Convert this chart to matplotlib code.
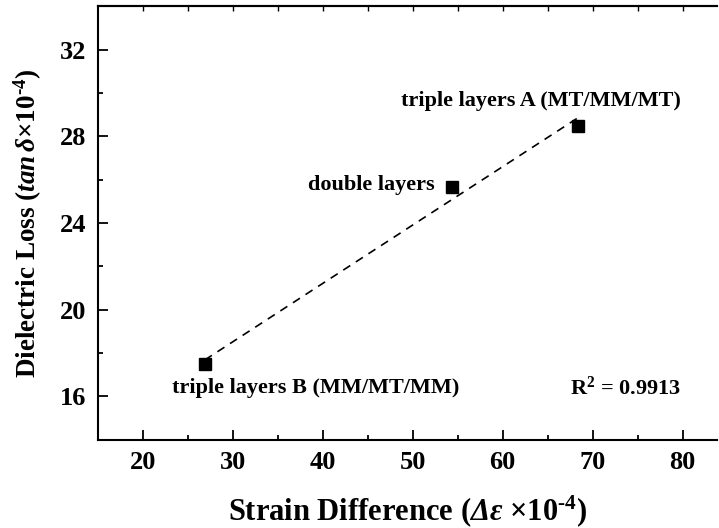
import numpy as np
import matplotlib
matplotlib.use("Agg")
import matplotlib.pyplot as plt

# data
strain = [26.9, 54.4, 68.4]
loss = [17.5, 25.65, 28.5]
labels = ["triple layers B (MM/MT/MM)", "double layers", "triple layers A (MT/MM/MT)"]
r2_text = "R$^{2}$ = 0.9913"

plt.rcParams['font.family'] = 'Liberation Serif'
plt.rcParams['font.weight'] = 'bold'
plt.rcParams['mathtext.fontset'] = 'custom'
plt.rcParams['mathtext.rm'] = 'Liberation Serif:bold'
plt.rcParams['mathtext.it'] = 'Liberation Serif:italic:bold'
plt.rcParams['mathtext.bf'] = 'Liberation Serif:bold'
plt.rcParams['mathtext.sf'] = 'Liberation Serif:italic:bold'

fig = plt.figure(figsize=(7.19, 5.28), dpi=100)
ax = fig.add_axes([0.136, 0.167, 0.861, 0.821])

# linear fit, drawn between the outer points
k, b = np.polyfit(strain, loss, 1)
xs = np.array([min(strain), max(strain)])
ax.plot(xs, k * xs + b, color='black', linestyle=(0, (5, 4)), linewidth=1.2)
ax.plot(strain, loss, 's', color='black', markersize=8)

# point labels
ax.text(23.2, 16.37, labels[0], fontsize=16, fontweight='bold', ha='left', va='center')
ax.text(52.4, loss[1] + 0.1, labels[1], fontsize=16, fontweight='bold', ha='right', va='center')
ax.text(64.2, 29.65, labels[2], fontsize=16, fontweight='bold', ha='center', va='center')
ax.text(73.6, 16.37, r2_text, fontsize=16, fontweight='bold', ha='center', va='center')

ax.set_xlim(15, 83.8)
ax.set_ylim(14, 34)
ax.set_xticks(np.arange(20, 81, 10))
ax.set_xticks(np.arange(25, 81, 10), minor=True)
ax.set_yticks(np.arange(16, 33, 4))
ax.set_yticks(np.arange(18, 34, 4), minor=True)

ax.spines['right'].set_visible(False)
for s in ['left', 'bottom', 'top']:
    ax.spines[s].set_linewidth(1.5)
ax.tick_params(which='major', direction='in', length=7, width=1.3, labelsize=19, pad=8)
ax.tick_params(which='minor', direction='in', length=3.5, width=1.3)

top = ax.secondary_xaxis('top')
top.set_xticks(np.arange(20, 81, 5))
top.tick_params(direction='in', length=3.5, width=1.0, labeltop=False)
top.spines['top'].set_linewidth(1.5)

ax.set_xlabel(r'Strain Difference ($\mathsf{Δε}$ ×10$^{\text{-4}}$)', fontsize=22,
              fontweight='bold', labelpad=14)
ax.set_ylabel(r'Dielectric Loss ($\mathit{tan}\,\mathit{δ}$×10$^{\text{-4}}$)', fontsize=19.5,
              fontweight='bold', labelpad=12)

fig.savefig('out.png', dpi=100)
